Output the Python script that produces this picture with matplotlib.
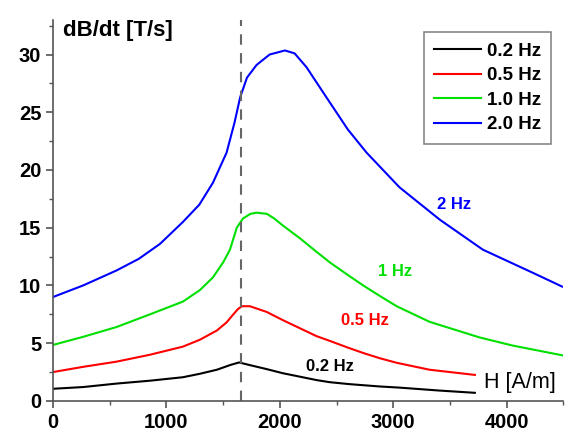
import matplotlib.pyplot as plt
from matplotlib.ticker import MultipleLocator

plt.rcParams["font.family"] = ["Liberation Sans", "DejaVu Sans"]

# dB/dt vs H readings for each frequency
h_02 = [0, 265, 560, 855, 1145, 1295, 1445, 1560, 1640, 1735, 1885, 2025, 2175, 2325, 2440, 2615, 2880, 3055, 3400, 3720]
db_02 = [1.05, 1.2, 1.5, 1.75, 2.05, 2.35, 2.7, 3.1, 3.33, 3.1, 2.75, 2.4, 2.1, 1.8, 1.62, 1.45, 1.25, 1.15, 0.9, 0.7]

h_05 = [0, 265, 560, 855, 1145, 1295, 1445, 1530, 1590, 1630, 1665, 1735, 1885, 2025, 2175, 2325, 2440, 2590, 2735, 2880, 3030, 3320, 3720]
db_05 = [2.5, 2.95, 3.4, 4.0, 4.7, 5.3, 6.1, 6.8, 7.5, 7.95, 8.2, 8.2, 7.7, 7.0, 6.3, 5.6, 5.2, 4.65, 4.15, 3.7, 3.3, 2.7, 2.25]

h_10 = [0, 265, 560, 855, 1145, 1295, 1410, 1500, 1560, 1620, 1675, 1740, 1795, 1885, 1950, 2025, 2175, 2325, 2440, 2615, 2735, 2880, 3030, 3320, 3760, 4050, 4490]
db_10 = [4.85, 5.55, 6.4, 7.5, 8.6, 9.6, 10.7, 12.0, 13.1, 15.0, 15.8, 16.2, 16.3, 16.2, 15.8, 15.2, 14.1, 12.9, 12.0, 10.8, 10.0, 9.1, 8.2, 6.85, 5.5, 4.8, 3.95]

h_20 = [0, 265, 560, 755, 943, 1145, 1290, 1410, 1530, 1600, 1650, 1710, 1795, 1910, 2045, 2130, 2235, 2410, 2600, 2765, 3055, 3410, 3790, 4230, 4490]
db_20 = [9.0, 10.0, 11.3, 12.3, 13.6, 15.5, 17.0, 18.9, 21.5, 24.1, 26.3, 28.0, 29.1, 30.0, 30.35, 30.1, 28.9, 26.3, 23.5, 21.5, 18.5, 15.7, 13.1, 11.1, 9.9]

h_mark = 1660

fig = plt.figure(figsize=(5.65, 4.32), dpi=100)
ax = fig.add_axes([0.094, 0.072, 0.903, 0.882])

ax.plot(h_02, db_02, color="black", lw=1.5, label="0.2 Hz")
ax.plot(h_05, db_05, color="#ff0000", lw=1.5, label="0.5 Hz")
ax.plot(h_10, db_10, color="#00e000", lw=1.5, label="1.0 Hz")
ax.plot(h_20, db_20, color="#0000ff", lw=1.5, label="2.0 Hz")
ax.axvline(h_mark, color="#666666", lw=1.5, ls=(0, (5, 4)))

ax.set_xlim(0, 4500)
ax.set_ylim(0, 33)
ax.xaxis.set_major_locator(MultipleLocator(1000))
ax.xaxis.set_minor_locator(MultipleLocator(500))
ax.yaxis.set_major_locator(MultipleLocator(5))
ax.yaxis.set_minor_locator(MultipleLocator(2.5))
for s in ["top", "right"]:
    ax.spines[s].set_visible(False)
for s in ["left", "bottom"]:
    ax.spines[s].set_color("#555555")
    ax.spines[s].set_linewidth(1.2)
ax.tick_params(which="major", direction="out", length=5, width=1.2, color="#555555")
ax.tick_params(which="minor", direction="out", length=3, width=1.0, color="#555555")
for lab in ax.get_xticklabels() + ax.get_yticklabels():
    lab.set_fontweight("bold")
    lab.set_fontsize(14.5)

ax.text(573, 32.1, "dB/dt [T/s]", fontsize=16, fontweight="bold", ha="center", va="center")
ax.text(4115, 1.55, "H [A/m]", fontsize=15.5, ha="center", va="center")
ax.text(3540, 17.0, "2 Hz", color="#0000ff", fontsize=12, fontweight="bold", ha="center", va="center")
ax.text(3015, 11.2, "1 Hz", color="#00e000", fontsize=12, fontweight="bold", ha="center", va="center")
ax.text(2750, 7.0, "0.5 Hz", color="#ff0000", fontsize=12, fontweight="bold", ha="center", va="center")
ax.text(2440, 3.0, "0.2 Hz", color="black", fontsize=12, fontweight="bold", ha="center", va="center")

leg = ax.legend(loc="upper right", bbox_to_anchor=(0.976, 0.968), borderaxespad=0, fontsize=13.5,
                fancybox=False, framealpha=1, edgecolor="#888888", handlelength=2.5,
                handletextpad=0.3, borderpad=0.55, labelspacing=0.4)
leg.get_frame().set_linewidth(1.2)
for t in leg.get_texts():
    t.set_fontweight("bold")

fig.savefig("out.png", dpi=100)
